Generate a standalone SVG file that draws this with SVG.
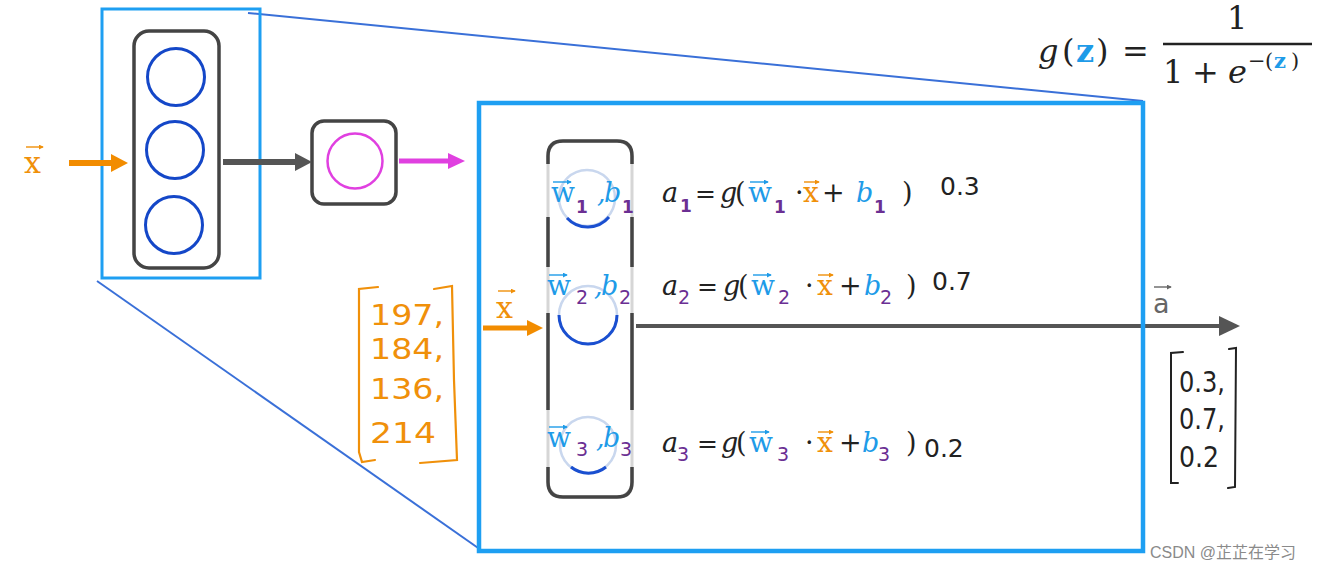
<svg xmlns="http://www.w3.org/2000/svg" width="1333" height="571" viewBox="0 0 1333 571">
<defs>
<style>
.serif{font-family:"DejaVu Serif","Liberation Serif",serif;}
.it{font-style:italic;}
.blue{fill:#1e9be8;}
.purple{fill:#6b2f93;}
.orange{fill:#f0900a;}
.blk{fill:#222;}
.hand{font-family:"DejaVu Sans","Liberation Sans",sans-serif;fill:#222;font-size:25px;}
.vec{stroke-width:1.4;fill:none;}
.eq{font-size:27px;}
.vw{font-size:28px;}
.sub{font-family:"DejaVu Sans","Liberation Sans",sans-serif;font-size:19px;}
.sub1{font-family:"DejaVu Sans","Liberation Sans",sans-serif;font-size:17px;font-weight:bold;}
.frame{fill:none;stroke:#1e9ff2;}
.zoomline{stroke:#3a70d8;stroke-width:2;fill:none;}
.node{fill:none;stroke:#444;stroke-width:3.5;}
</style>
<marker id="vh" viewBox="0 0 6 6" refX="5" refY="3" markerWidth="5" markerHeight="5" orient="auto" markerUnits="userSpaceOnUse"><path d="M0,0 L6,3 L0,6 Z" fill="context-stroke"/></marker>
</defs>
<rect width="1333" height="571" fill="#ffffff"/>

<g id="zoom-lines">
<line class="zoomline" x1="248" y1="13" x2="1143" y2="101"/>
<line class="zoomline" x1="97" y1="281" x2="481" y2="550"/>
</g>

<g id="layer1">
<rect x="102" y="9" width="158" height="269" class="frame" stroke-width="3"/>
<rect x="134" y="31" width="85" height="237" rx="15" class="node"/>
<circle cx="176" cy="77" r="28.5" fill="none" stroke="#1447c8" stroke-width="3"/>
<circle cx="175" cy="150" r="28.5" fill="none" stroke="#1447c8" stroke-width="3"/>
<circle cx="174" cy="225" r="28.5" fill="none" stroke="#1447c8" stroke-width="3"/>
</g>
<g id="layer2">
<rect x="312" y="121" width="84" height="83" rx="12" class="node"/>
<circle cx="355" cy="161" r="27.5" fill="none" stroke="#e040e0" stroke-width="2.5"/>
</g>
<g id="input-x">
<text x="24" y="173" class="serif orange" font-size="30">x</text>
<path d="M26,147 L43,147" class="vec" stroke="#f0900a" marker-end="url(#vh)"/>
</g>

<g id="connectors">
<line x1="69" y1="163" x2="113" y2="163" stroke="#f28c00" stroke-width="6"/>
<path d="M111,154 L128,163 L111,172 Z" fill="#f28c00"/>
<line x1="223" y1="162" x2="297" y2="162" stroke="#555" stroke-width="6"/>
<path d="M295,153 L312,162 L295,171 Z" fill="#555"/>
<line x1="399" y1="161" x2="450" y2="161" stroke="#e040e0" stroke-width="5"/>
<path d="M448,153 L465,161 L448,169 Z" fill="#e040e0"/>
<line x1="483" y1="328" x2="529" y2="328" stroke="#f28c00" stroke-width="5"/>
<path d="M527,320 L543,328 L527,336 Z" fill="#f28c00"/>
<line x1="636" y1="326" x2="1222" y2="326" stroke="#555" stroke-width="4"/>
<path d="M1219,316 L1240,326 L1219,336 Z" fill="#555"/>
</g>

<g id="zoom-frame">
<rect x="479" y="103" width="664" height="448" class="frame" stroke-width="4.5"/>
</g>

<g id="inner-layer">
<rect x="548" y="141" width="84" height="356" rx="15" fill="none" stroke="#d6d6d6" stroke-width="3"/>
<path d="M548,164 L548,156 Q548,141 563,141 L617,141 Q632,141 632,156 L632,164" fill="none" stroke="#444" stroke-width="3.5"/>
<line x1="548" y1="217" x2="548" y2="267" stroke="#444" stroke-width="3.5"/>
<line x1="632" y1="217" x2="632" y2="267" stroke="#444" stroke-width="3.5"/>
<line x1="548" y1="313" x2="548" y2="410" stroke="#444" stroke-width="3.5"/>
<line x1="632" y1="313" x2="632" y2="410" stroke="#444" stroke-width="3.5"/>
<path d="M548,467 L548,482 Q548,497 563,497 L617,497 Q632,497 632,482 L632,467" fill="none" stroke="#444" stroke-width="3.5"/>
</g>

<g id="neuron1">
<circle cx="587" cy="198" r="28" fill="none" stroke="#c9d7ee" stroke-width="2.5"/>
<path d="M567,218 A28,28 0 0 0 609,217" fill="none" stroke="#1a4fd0" stroke-width="3"/>
<text x="551" y="202" class="serif blue vw">w</text>
<path d="M553,182 L571,182" class="vec" stroke="#1e9be8" marker-end="url(#vh)"/>
<text x="576" y="213" class="sub1 purple">1</text>
<text x="597" y="202" class="serif it blue" font-size="27">,</text>
<text x="604" y="202" class="serif it blue" font-size="27">b</text>
<text x="622" y="213" class="sub1 purple">1</text>
</g>
<g id="neuron2">
<circle cx="588" cy="315" r="29" fill="none" stroke="#c9d7ee" stroke-width="2.5"/>
<path d="M559,315 A29,29 0 0 0 617,315" fill="none" stroke="#1a4fd0" stroke-width="3"/>
<text x="547" y="295" class="serif blue vw">w</text>
<path d="M549,275 L567,275" class="vec" stroke="#1e9be8" marker-end="url(#vh)"/>
<text x="576" y="304" class="sub purple">2</text>
<text x="594" y="295" class="serif it blue" font-size="27">,</text>
<text x="601" y="295" class="serif it blue" font-size="27">b</text>
<text x="619" y="304" class="sub purple">2</text>
</g>
<g id="neuron3">
<circle cx="588" cy="445" r="28" fill="none" stroke="#c9d7ee" stroke-width="2.5"/>
<path d="M571,467 A28,28 0 0 0 606,467" fill="none" stroke="#1a4fd0" stroke-width="3"/>
<text x="547" y="447" class="serif blue vw">w</text>
<path d="M549,427 L567,427" class="vec" stroke="#1e9be8" marker-end="url(#vh)"/>
<text x="576" y="456" class="sub purple">3</text>
<text x="596" y="447" class="serif it blue" font-size="27">,</text>
<text x="603" y="447" class="serif it blue" font-size="27">b</text>
<text x="620" y="456" class="sub purple">3</text>
</g>

<g id="eq1" class="serif eq">
<text x="662" y="202" class="it blk">a</text>
<text x="680" y="212" class="sub1 purple">1</text>
<text x="695" y="202" class="blk" font-size="25">=</text>
<text x="720" y="202" class="it blk">g</text>
<text x="735" y="202" class="blk">(</text>
<text x="748" y="202" class="blue vw">w</text>
<path d="M750,182 L768,182" class="vec" stroke="#1e9be8" marker-end="url(#vh)"/>
<text x="774" y="213" class="sub1 purple">1</text>
<text x="795" y="202" class="blk">·</text>
<text x="803" y="202" class="orange vw">x</text>
<path d="M804,182 L819,182" class="vec" stroke="#f0900a" marker-end="url(#vh)"/>
<text x="822" y="202" class="blk">+</text>
<text x="856" y="202" class="it blue">b</text>
<text x="874" y="213" class="sub1 purple">1</text>
<text x="902" y="202" class="blk">)</text>
<text x="940" y="195" class="hand">0.3</text>
</g>
<g id="eq2" class="serif eq">
<text x="662" y="295" class="it blk">a</text>
<text x="678" y="304" class="sub purple">2</text>
<text x="697" y="295" class="blk" font-size="25">=</text>
<text x="723" y="295" class="it blk">g</text>
<text x="738" y="295" class="blk">(</text>
<text x="751" y="295" class="blue vw">w</text>
<path d="M753,275 L771,275" class="vec" stroke="#1e9be8" marker-end="url(#vh)"/>
<text x="778" y="304" class="sub purple">2</text>
<text x="805" y="295" class="blk">·</text>
<text x="817" y="295" class="orange vw">x</text>
<path d="M818,275 L833,275" class="vec" stroke="#f0900a" marker-end="url(#vh)"/>
<text x="839" y="295" class="blk">+</text>
<text x="864" y="295" class="it blue">b</text>
<text x="880" y="304" class="sub purple">2</text>
<text x="906" y="295" class="blk">)</text>
<text x="932" y="290" class="hand">0.7</text>
</g>
<g id="eq3" class="serif eq">
<text x="662" y="452" class="it blk">a</text>
<text x="677" y="461" class="sub purple">3</text>
<text x="697" y="452" class="blk" font-size="25">=</text>
<text x="721" y="452" class="it blk">g</text>
<text x="736" y="452" class="blk">(</text>
<text x="749" y="452" class="blue vw">w</text>
<path d="M751,432 L769,432" class="vec" stroke="#1e9be8" marker-end="url(#vh)"/>
<text x="777" y="461" class="sub purple">3</text>
<text x="805" y="452" class="blk">·</text>
<text x="817" y="452" class="orange vw">x</text>
<path d="M818,432 L833,432" class="vec" stroke="#f0900a" marker-end="url(#vh)"/>
<text x="839" y="452" class="blk">+</text>
<text x="862" y="452" class="it blue">b</text>
<text x="878" y="461" class="sub purple">3</text>
<text x="906" y="452" class="blk">)</text>
<text x="924" y="457" class="hand">0.2</text>
</g>

<g id="input-vector">
<path d="M378,287 L359,289 L359,452 L362,462 L375,460" fill="none" stroke="#f0900a" stroke-width="2.2" stroke-linecap="round"/>
<path d="M434,289 L452,286 L454,380 L457,460 L420,463" fill="none" stroke="#f0900a" stroke-width="2.2" stroke-linecap="round"/>
<g font-family="DejaVu Sans, Liberation Sans, sans-serif" font-size="29" fill="#f0900a">
<text x="370" y="325" textLength="74" lengthAdjust="spacingAndGlyphs">197,</text>
<text x="370" y="359" textLength="74" lengthAdjust="spacingAndGlyphs">184,</text>
<text x="370" y="399" textLength="74" lengthAdjust="spacingAndGlyphs">136,</text>
<text x="370" y="443" textLength="66" lengthAdjust="spacingAndGlyphs">214</text>
</g>
<text x="496" y="318" class="serif orange" font-size="30">x</text>
<path d="M498,291 L515,291" class="vec" stroke="#f0900a" marker-end="url(#vh)"/>
</g>

<g id="output-vector">
<text x="1153" y="313" font-family="DejaVu Sans, Liberation Sans, sans-serif" font-size="27" fill="#666">a</text>
<path d="M1154,287 L1171,287" class="vec" stroke="#666" marker-end="url(#vh)"/>
<path d="M1183,352 L1171,353 L1171,483 L1178,483" fill="none" stroke="#222" stroke-width="2" stroke-linecap="round"/>
<path d="M1229,349 L1236,348 L1235,487 L1228,488" fill="none" stroke="#222" stroke-width="2" stroke-linecap="round"/>
<g font-family="DejaVu Sans, Liberation Sans, sans-serif" font-size="29" fill="#222">
<text x="1179" y="392" textLength="46" lengthAdjust="spacingAndGlyphs">0.3,</text>
<text x="1179" y="429" textLength="46" lengthAdjust="spacingAndGlyphs">0.7,</text>
<text x="1179" y="467" textLength="40" lengthAdjust="spacingAndGlyphs">0.2</text>
</g>
</g>

<g id="formula" class="serif" font-size="32" fill="#222">
<text x="1038" y="62" class="it">g</text>
<text x="1062" y="62">(</text>
<text x="1076" y="62" class="blue" font-weight="bold">z</text>
<text x="1096" y="62">)</text>
<text x="1122" y="62">=</text>
<line x1="1163" y1="44" x2="1312" y2="44" stroke="#222" stroke-width="2.5"/>
<text x="1227" y="29">1</text>
<text x="1163" y="83">1</text>
<text x="1192" y="83">+</text>
<text x="1228" y="83" class="it">e</text>
<text x="1248" y="68" font-size="21">−</text>
<text x="1265" y="68" font-size="21">(</text>
<text x="1274" y="68" font-size="21" class="blue" font-weight="bold">z</text>
<text x="1291" y="68" font-size="21">)</text>
</g>

<g id="watermark">
<text x="1150" y="558" font-family="Liberation Sans, Noto Sans CJK SC, sans-serif" font-size="16" fill="#8a8a8a">CSDN @芷芷在学习</text>
</g>
</svg>
